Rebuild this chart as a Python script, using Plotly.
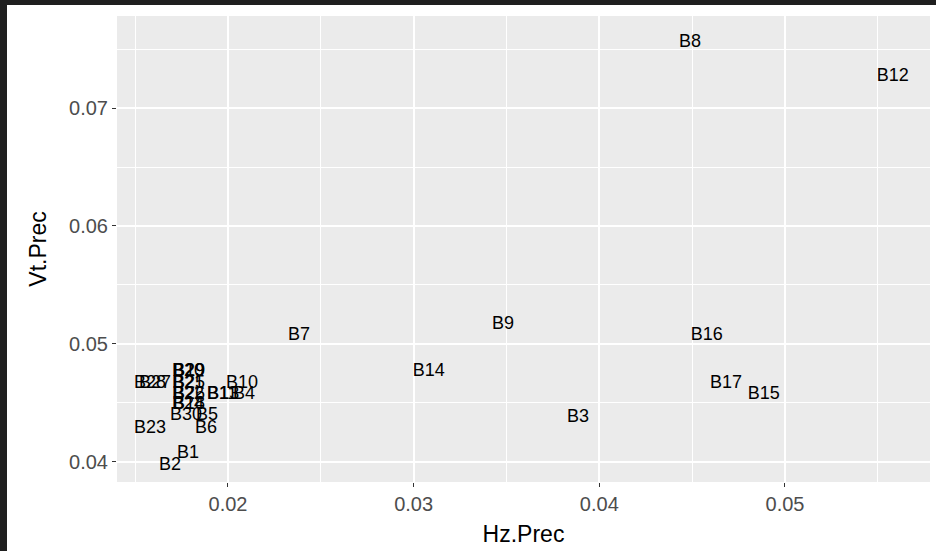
import plotly.graph_objects as go

labels = ["B1", "B2", "B3", "B4", "B5", "B6", "B7", "B8", "B9", "B10",
          "B11", "B12", "B13", "B14", "B15", "B16", "B17", "B18", "B19", "B20",
          "B21", "B22", "B23", "B24", "B25", "B26", "B27", "B28", "B29", "B30"]
hz_prec = [0.01785, 0.01688, 0.03885, 0.02086, 0.01887, 0.01882, 0.02382, 0.04488, 0.03481, 0.02075,
           0.01968, 0.05581, 0.01975, 0.03082, 0.04886, 0.04579, 0.04682, 0.01790, 0.01790, 0.01785,
           0.01785, 0.01785, 0.01580, 0.01785, 0.01790, 0.01790, 0.01607, 0.01580, 0.01790, 0.01774]
vt_prec = [0.04068, 0.03966, 0.04373, 0.04568, 0.04390, 0.04280, 0.05076, 0.07559, 0.05169, 0.04661,
           0.04568, 0.07263, 0.04568, 0.04763, 0.04568, 0.05076, 0.04669, 0.04483, 0.04763, 0.04763,
           0.04661, 0.04568, 0.04280, 0.04483, 0.04661, 0.04568, 0.04661, 0.04661, 0.04763, 0.04390]

x_range = [0.014023, 0.05781]
y_range = [0.0383, 0.0778]

W, H = 936, 551
ml, mr, mt, mb = 117, 6, 16, 69
pw, ph = W - ml - mr, H - mt - mb

FONT = "Liberation Sans, Arial, sans-serif"

fig = go.Figure()
fig.add_trace(go.Scatter(
    x=hz_prec, y=vt_prec, text=labels, mode="text",
    textposition="middle center",
    textfont=dict(family=FONT, size=18, color="#000000"),
    hoverinfo="text", showlegend=False,
))

def px2paper_x(p):
    return (p - ml) / pw

def px2paper_y(p):
    return (H - mb - p) / ph

dark = "#1f1f1f"
shapes = [
    dict(type="rect", xref="paper", yref="paper",
         x0=px2paper_x(-2), x1=px2paper_x(7), y0=px2paper_y(H + 2), y1=px2paper_y(-2),
         fillcolor=dark, line=dict(width=0), layer="above"),
    dict(type="rect", xref="paper", yref="paper",
         x0=px2paper_x(-2), x1=px2paper_x(W + 2), y0=px2paper_y(5), y1=px2paper_y(-2),
         fillcolor=dark, line=dict(width=0), layer="above"),
]

axis_common = dict(
    showline=False, zeroline=False,
    ticks="outside", ticklen=4, tickwidth=1, tickcolor="#333333",
    gridcolor="#FFFFFF", gridwidth=1.6,
    tickfont=dict(family=FONT, size=20, color="#4D4D4D"),
)

fig.update_layout(
    width=W, height=H,
    margin=dict(l=ml, r=mr, t=mt, b=mb, pad=0),
    paper_bgcolor="#FFFFFF", plot_bgcolor="#EBEBEB",
    shapes=shapes,
    xaxis=dict(
        range=x_range, tickmode="array",
        tickvals=[0.02, 0.03, 0.04, 0.05], ticktext=["0.02", "0.03", "0.04", "0.05"],
        minor=dict(tickmode="array", tickvals=[0.015, 0.025, 0.035, 0.045, 0.055],
                   showgrid=True, gridcolor="#FFFFFF", gridwidth=0.8, ticks=""),
        title=dict(text="Hz.Prec", standoff=11,
                   font=dict(family=FONT, size=23, color="#000000")),
        **axis_common,
    ),
    yaxis=dict(
        range=y_range, tickmode="array",
        tickvals=[0.04, 0.05, 0.06, 0.07], ticktext=["0.04", "0.05", "0.06", "0.07"],
        minor=dict(tickmode="array", tickvals=[0.045, 0.055, 0.065, 0.075],
                   showgrid=True, gridcolor="#FFFFFF", gridwidth=0.8, ticks=""),
        title=dict(text="Vt.Prec", standoff=16,
                   font=dict(family=FONT, size=23, color="#000000")),
        **axis_common,
    ),
)

fig.write_html("out.html")
